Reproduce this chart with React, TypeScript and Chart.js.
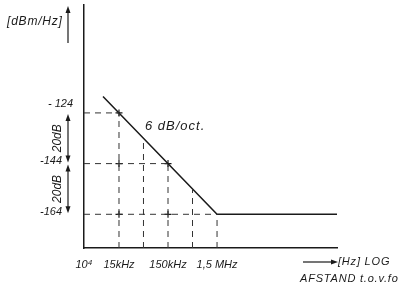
import React, { useEffect, useRef } from "react";
import { Chart, registerables } from "chart.js";

Chart.register(...registerables);

// Slope line: 6 dB/oct (20 dB/decade) then flat
const lineFreqs = [7080, 1500000, 420000000];
const lineLevels = [-117.5, -164, -164];

// Dashed construction lines (vertical) and the level they reach on the slope
const gridFreqs = [15000, 47400, 150000, 474000, 1500000];
const gridLevels = [-124, -134, -144, -154, -164];

// Horizontal dashed lines: level and the frequency where they meet the slope
const hLevels = [-124, -144, -164];
const hFreqs = [15000, 150000, 1500000];

// Cross marks
const crossFreqs = [15000, 15000, 15000, 150000, 150000];
const crossLevels = [-124, -144, -164, -144, -164];

// Axis ticks
const freqTicks = [2900, 15000, 150000, 1500000];
const freqTickLabels = ["10\u2074", "15kHz", "150kHz", "1,5 MHz"];
const levelTicks = [-124, -144, -164];
const levelTickLabels = ["- 124", "-144", "-164"];

const X_MIN = 2900;
const X_MAX = 420000000;
const Y_MIN = -177.3;
const Y_MAX = -81.5;

const INK = "#1a1a1a";
const FONT = "'Liberation Sans', 'DejaVu Sans', sans-serif";

function arrowHead(ctx: CanvasRenderingContext2D, x: number, y: number, dir: "up" | "down" | "right") {
  ctx.beginPath();
  if (dir === "up") {
    ctx.moveTo(x, y);
    ctx.lineTo(x - 2.5, y + 7);
    ctx.lineTo(x + 2.5, y + 7);
  } else if (dir === "down") {
    ctx.moveTo(x, y);
    ctx.lineTo(x - 2.5, y - 7);
    ctx.lineTo(x + 2.5, y - 7);
  } else {
    ctx.moveTo(x, y);
    ctx.lineTo(x - 7, y - 2.5);
    ctx.lineTo(x - 7, y + 2.5);
  }
  ctx.closePath();
  ctx.fill();
}

const annotations = {
  id: "annotations",
  afterDraw(chart: any) {
    const ctx: any = chart.ctx;
    const ys = chart.scales.y;
    ctx.save();
    ctx.fillStyle = INK;
    ctx.strokeStyle = INK;
    ctx.lineWidth = 1.2;

    // y-axis unit label with arrow
    ctx.font = `italic 12px ${FONT}`;
    ctx.letterSpacing = "0.8px";
    ctx.textAlign = "left";
    ctx.textBaseline = "middle";
    ctx.fillText("[dBm/Hz]", 7, 22);
    ctx.letterSpacing = "0px";
    ctx.beginPath();
    ctx.moveTo(68, 43);
    ctx.lineTo(68, 12);
    ctx.stroke();
    arrowHead(ctx, 68, 6, "up");

    // level tick labels
    ctx.font = `italic 11px ${FONT}`;
    ctx.textAlign = "right";
    const offs = [
      [73, -9],
      [62, -3],
      [62, -2],
    ];
    levelTicks.forEach((v, i) => {
      ctx.fillText(levelTickLabels[i], offs[i][0], ys.getPixelForValue(v) + offs[i][1]);
    });

    // 20 dB dimension arrows
    const pairs = [
      [levelTicks[0], levelTicks[1]],
      [levelTicks[1], levelTicks[2]],
    ];
    pairs.forEach(([a, b]) => {
      const y1 = ys.getPixelForValue(a) + 1;
      const y2 = ys.getPixelForValue(b) - 1;
      ctx.beginPath();
      ctx.moveTo(68, y1 + 5);
      ctx.lineTo(68, y2 - 5);
      ctx.stroke();
      arrowHead(ctx, 68, y1, "up");
      arrowHead(ctx, 68, y2, "down");
      ctx.save();
      ctx.translate(58, (y1 + y2) / 2);
      ctx.rotate(-Math.PI / 2);
      ctx.textAlign = "center";
      ctx.textBaseline = "middle";
      ctx.font = `italic 12px ${FONT}`;
      ctx.fillText("20dB", 0, 0);
      ctx.restore();
    });

    // slope label
    ctx.font = `italic 13px ${FONT}`;
    ctx.letterSpacing = "1px";
    ctx.textAlign = "left";
    ctx.textBaseline = "middle";
    ctx.fillText("6 dB/oct.", 145, 126);

    // x-axis unit label with arrow
    ctx.beginPath();
    ctx.moveTo(303, 262);
    ctx.lineTo(332, 262);
    ctx.stroke();
    arrowHead(ctx, 338, 262, "right");
    ctx.font = `italic 11px ${FONT}`;
    ctx.letterSpacing = "0.8px";
    ctx.fillText("[Hz] LOG", 338, 262);
    ctx.fillText("AFSTAND t.o.v.fo", 300, 279);
    ctx.restore();
  },
};

export default function App() {
  const ref = useRef<HTMLCanvasElement>(null);

  useEffect(() => {
    if (!ref.current) return;
    const dashed = (pts: { x: number; y: number }[]) => ({
      data: pts,
      borderColor: "#333",
      borderWidth: 1,
      borderDash: [6, 5],
      pointRadius: 0,
      fill: false,
    });
    const datasets: any[] = [];
    hLevels.forEach((lv, i) => {
      datasets.push(dashed([{ x: X_MIN, y: lv }, { x: hFreqs[i], y: lv }]));
    });
    gridFreqs.forEach((f, i) => {
      datasets.push(dashed([{ x: f, y: Y_MIN }, { x: f, y: gridLevels[i] }]));
    });
    datasets.push({
      data: crossFreqs.map((f, i) => ({ x: f, y: crossLevels[i] })),
      showLine: false,
      pointStyle: "cross",
      pointRadius: 3.5,
      pointBorderColor: INK,
      pointBorderWidth: 1.2,
    });
    datasets.push({
      data: lineFreqs.map((f, i) => ({ x: f, y: lineLevels[i] })),
      borderColor: INK,
      borderWidth: 1.5,
      pointRadius: 0,
      fill: false,
    });

    const chart = new Chart(ref.current, {
      type: "line",
      data: { datasets },
      options: {
        animation: false,
        responsive: false,
        events: [],
        layout: { padding: { left: 0, top: 3, right: 79, bottom: 0 } },
        plugins: { legend: { display: false }, tooltip: { enabled: false } },
        scales: {
          x: {
            type: "logarithmic",
            min: X_MIN,
            max: X_MAX,
            grid: { display: false, drawTicks: false },
            border: { display: true, color: INK, width: 1.5 },
            afterBuildTicks: (s: any) => {
              s.ticks = freqTicks.map((v) => ({ value: v }));
            },
            afterFit: (s: any) => {
              s.height = 49;
            },
            ticks: {
              autoSkip: false,
              maxRotation: 0,
              padding: 10,
              color: INK,
              font: { family: FONT, size: 11, style: "italic" },
              callback: (_v: any, i: number) => freqTickLabels[i],
            },
          },
          y: {
            type: "linear",
            min: Y_MIN,
            max: Y_MAX,
            grid: { display: false, drawTicks: false },
            border: { display: true, color: INK, width: 1.5 },
            ticks: { display: false },
            afterFit: (s: any) => {
              s.width = 84;
            },
          },
        },
      },
      plugins: [annotations],
    });
    return () => chart.destroy();
  }, []);

  return (
    <div style={{ position: "absolute", left: 0, top: 0, width: 416, height: 297, background: "#fff" }}>
      <canvas ref={ref} width={416} height={297} />
    </div>
  );
}
